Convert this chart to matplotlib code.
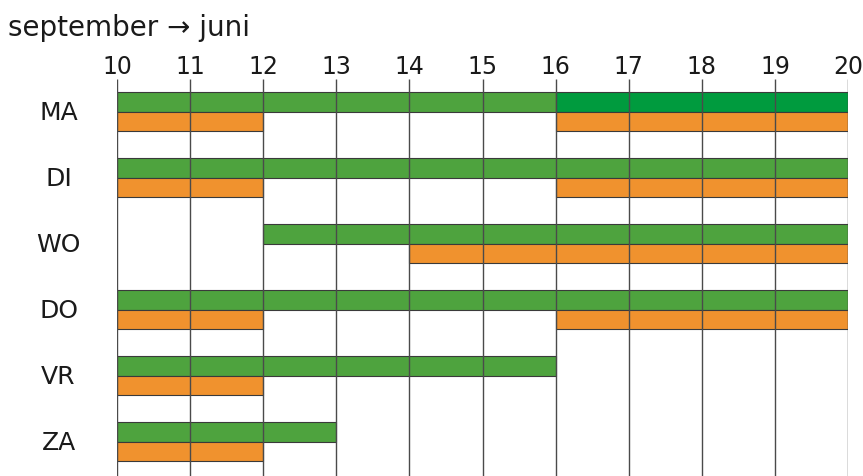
import matplotlib.pyplot as plt

# dagen en uren
dagen = ['MA', 'DI', 'WO', 'DO', 'VR', 'ZA']
uren = [10, 11, 12, 13, 14, 15, 16, 17, 18, 19, 20]

# groene balken (start, eind) per dag
groen = [[(10, 16)], [(10, 20)], [(12, 20)], [(10, 20)], [(10, 16)], [(10, 13)]]
# donkergroen alleen op maandag
donkergroen = [[(16, 20)], [], [], [], [], []]
# oranje balken
oranje = [[(10, 12), (16, 20)], [(10, 12), (16, 20)], [(14, 20)],
          [(10, 12), (16, 20)], [(10, 12)], [(10, 12)]]

kleur_groen = '#4ea33e'
kleur_donker = '#009b3e'
kleur_oranje = '#f0922e'
h = 0.295

plt.rcParams['font.family'] = ['DejaVu Sans']

fig = plt.figure(figsize=(8.63, 4.77), dpi=100)
ax = fig.add_axes([117 / 863, 0, (848 - 117) / 863, 1 - 80 / 477])

for i, dag in enumerate(dagen):
    for (a, b) in groen[i]:
        ax.barh(i - h / 2, b - a, left=a, height=h, color=kleur_groen,
                edgecolor='#3a3a3a', linewidth=0.8, zorder=2)
    for (a, b) in donkergroen[i]:
        ax.barh(i - h / 2, b - a, left=a, height=h, color=kleur_donker,
                edgecolor='#3a3a3a', linewidth=0.8, zorder=2)
    for (a, b) in oranje[i]:
        ax.barh(i + h / 2, b - a, left=a, height=h, color=kleur_oranje,
                edgecolor='#3a3a3a', linewidth=0.8, zorder=2)
    ax.text(9.2, i, dag, ha='center', va='center', fontsize=18, color='#1a1a1a')

top = (80 - 112.5) / 66
bottom = (477 - 112.5) / 66
ax.vlines(uren, top, bottom, color='#4a4a4a', linewidth=1, zorder=3)

ax.set_xlim(10, 20)
ax.set_ylim(bottom, top)
ax.xaxis.tick_top()
ax.set_xticks(uren)
ax.set_xticklabels([str(u) for u in uren], fontsize=17, color='#1a1a1a')
ax.tick_params(axis='x', length=0, pad=1)
ax.set_yticks([])
for s in ax.spines.values():
    s.set_visible(False)
ax.patch.set_alpha(0)

fig.text(8 / 863, 1 - 36 / 477, 'september \u2192 juni', fontsize=20,
         va='baseline', ha='left', color='#1a1a1a')

fig.savefig('out.png', dpi=100)
